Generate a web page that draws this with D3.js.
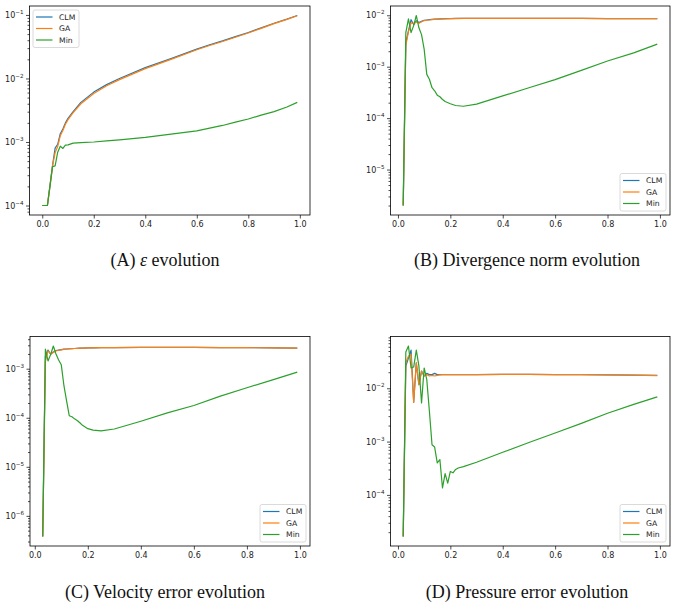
<!DOCTYPE html>
<html>
<head>
<meta charset="utf-8">
<script src="https://cdn.jsdelivr.net/npm/d3@7"></script>
<style>
body{margin:0;background:#fff;}
svg{display:block;}
</style>
</head>
<body>
<script>
// series names and colours
var seriesNames = ["CLM", "GA", "Min"];
var colors = ["#1f77b4", "#ff7f0e", "#2ca02c"];
var xTicks = [0.0, 0.2, 0.4, 0.6, 0.8, 1.0];

// (A) epsilon evolution
var xA = [0, 0.01, 0.02, 0.03, 0.04, 0.05, 0.06, 0.07, 0.08, 0.09, 0.10, 0.12, 0.15, 0.2, 0.25, 0.3, 0.4, 0.5, 0.6, 0.65, 0.7, 0.75, 0.8, 0.85, 0.9, 0.95, 0.99];
var clmA = [1e-4, 1e-4, 1e-4, 2.1e-4, 4.3e-4, 8.0e-4, 9.2e-4, 1.35e-3, 1.6e-3, 2.0e-3, 2.35e-3, 3.0e-3, 4.2e-3, 6.1e-3, 8.0e-3, 1.0e-2, 1.48e-2, 2.05e-2, 2.9e-2, 3.4e-2, 3.9e-2, 4.55e-2, 5.3e-2, 6.25e-2, 7.4e-2, 8.6e-2, 9.8e-2];
var gaA = [1e-4, 1e-4, 1e-4, 2.0e-4, 4.2e-4, 6.8e-4, 8.5e-4, 1.25e-3, 1.52e-3, 1.9e-3, 2.25e-3, 2.9e-3, 4.0e-3, 5.8e-3, 7.7e-3, 9.6e-3, 1.43e-2, 2.0e-2, 2.83e-2, 3.3e-2, 3.82e-2, 4.45e-2, 5.2e-2, 6.15e-2, 7.3e-2, 8.5e-2, 9.7e-2];
var minA = [1e-4, 1e-4, 1e-4, 2.0e-4, 4.1e-4, 4.2e-4, 6.9e-4, 8.6e-4, 7.9e-4, 8.9e-4, 9.0e-4, 9.6e-4, 9.8e-4, 1.0e-3, 1.04e-3, 1.08e-3, 1.18e-3, 1.33e-3, 1.5e-3, 1.65e-3, 1.82e-3, 2.05e-3, 2.3e-3, 2.65e-3, 3.0e-3, 3.55e-3, 4.2e-3];

// (B) divergence norm evolution
var xB = [0.02, 0.03, 0.04, 0.05, 0.06, 0.07, 0.08, 0.09, 0.10, 0.11, 0.12, 0.13, 0.14, 0.15, 0.16, 0.17, 0.18, 0.2, 0.22, 0.25, 0.3, 0.4, 0.5, 0.6, 0.7, 0.8, 0.9, 0.99];
var clmB = [2e-6, 2.9e-3, 5.0e-3, 8.2e-3, 6.6e-3, 7.8e-3, 7.2e-3, 7.6e-3, 8.0e-3, 8.1e-3, 8.2e-3, 8.3e-3, 8.4e-3, 8.4e-3, 8.5e-3, 8.5e-3, 8.6e-3, 8.6e-3, 8.7e-3, 8.7e-3, 8.7e-3, 8.7e-3, 8.7e-3, 8.7e-3, 8.7e-3, 8.6e-3, 8.6e-3, 8.6e-3];
var gaB = [2e-6, 2.6e-3, 4.8e-3, 7.1e-3, 6.9e-3, 7.4e-3, 7.0e-3, 7.5e-3, 7.9e-3, 8.0e-3, 8.1e-3, 8.2e-3, 8.3e-3, 8.4e-3, 8.4e-3, 8.5e-3, 8.5e-3, 8.6e-3, 8.6e-3, 8.7e-3, 8.7e-3, 8.7e-3, 8.7e-3, 8.7e-3, 8.7e-3, 8.6e-3, 8.6e-3, 8.6e-3];
var minB = [2e-6, 4.6e-3, 8.5e-3, 4.6e-3, 6.3e-3, 9.9e-3, 5.7e-3, 4.2e-3, 2.2e-3, 7.1e-4, 5.7e-4, 3.9e-4, 3.4e-4, 2.8e-4, 2.6e-4, 2.3e-4, 2.1e-4, 1.9e-4, 1.76e-4, 1.7e-4, 1.87e-4, 2.7e-4, 3.9e-4, 5.6e-4, 8.5e-4, 1.29e-3, 1.86e-3, 2.75e-3];

// (C) velocity error evolution
var xC = [0.03, 0.04, 0.05, 0.06, 0.07, 0.08, 0.09, 0.10, 0.11, 0.12, 0.13, 0.14, 0.15, 0.16, 0.17, 0.18, 0.2, 0.22, 0.25, 0.3, 0.4, 0.5, 0.6, 0.7, 0.8, 0.9, 0.99];
var clmC = [3.8e-7, 1.8e-3, 2.4e-3, 1.96e-3, 2.2e-3, 2.35e-3, 2.4e-3, 2.45e-3, 2.5e-3, 2.52e-3, 2.55e-3, 2.57e-3, 2.58e-3, 2.6e-3, 2.62e-3, 2.63e-3, 2.65e-3, 2.67e-3, 2.68e-3, 2.7e-3, 2.72e-3, 2.72e-3, 2.72e-3, 2.7e-3, 2.68e-3, 2.66e-3, 2.63e-3];
var gaC = [3.8e-7, 1.4e-3, 2.3e-3, 2.0e-3, 2.15e-3, 2.3e-3, 2.38e-3, 2.43e-3, 2.48e-3, 2.5e-3, 2.53e-3, 2.56e-3, 2.58e-3, 2.6e-3, 2.62e-3, 2.63e-3, 2.65e-3, 2.67e-3, 2.68e-3, 2.7e-3, 2.72e-3, 2.72e-3, 2.72e-3, 2.7e-3, 2.68e-3, 2.66e-3, 2.63e-3];
var minC = [3.8e-7, 2.5e-3, 1.44e-3, 1.96e-3, 2.9e-3, 2.0e-3, 1.5e-3, 1.2e-3, 4.5e-4, 2.2e-4, 1.1e-4, 1.05e-4, 9.5e-5, 8.8e-5, 7.9e-5, 7.0e-5, 6.0e-5, 5.6e-5, 5.4e-5, 5.9e-5, 8.5e-5, 1.26e-4, 1.78e-4, 2.76e-4, 4.1e-4, 6.0e-4, 8.5e-4];

// (D) pressure error evolution
var xD = [0.02, 0.03, 0.04, 0.05, 0.06, 0.07, 0.08, 0.09, 0.10, 0.11, 0.12, 0.13, 0.14, 0.15, 0.16, 0.17, 0.18, 0.19, 0.20, 0.21, 0.22, 0.23, 0.25, 0.3, 0.4, 0.5, 0.6, 0.7, 0.8, 0.9, 0.99];
var clmD = [1.66e-5, 0.026, 0.037, 0.052, 5.5e-3, 0.030, 0.0117, 0.021, 0.017, 0.019, 0.018, 0.018, 0.019, 0.018, 0.018, 0.018, 0.018, 0.018, 0.018, 0.018, 0.018, 0.018, 0.018, 0.018, 0.0182, 0.0182, 0.0181, 0.018, 0.0178, 0.0176, 0.0174];
var gaD = [1.66e-5, 0.030, 0.040, 0.043, 5.5e-3, 0.030, 0.0117, 0.021, 0.017, 0.018, 0.017, 0.0175, 0.017, 0.0175, 0.0178, 0.018, 0.018, 0.018, 0.018, 0.018, 0.018, 0.018, 0.018, 0.018, 0.0182, 0.0182, 0.0181, 0.018, 0.0178, 0.0176, 0.0173];
var minD = [1.66e-5, 0.048, 0.062, 0.024, 0.025, 0.052, 0.026, 5.3e-3, 0.024, 0.0145, 3.7e-3, 8.7e-4, 7.9e-4, 4.0e-4, 4.6e-4, 1.35e-4, 2.5e-4, 1.66e-4, 2.75e-4, 2.6e-4, 3.0e-4, 3.2e-4, 3.4e-4, 4.1e-4, 6.3e-4, 9.6e-4, 1.45e-3, 2.2e-3, 3.4e-3, 5.0e-3, 6.9e-3];

var W = 678, H = 607;
var svg = d3.select("body").append("svg")
  .attr("width", W)
  .attr("height", H);

// frame boxes [left, top, right, bottom], caption centre
var panels = [
  {x: xA, ys: [clmA, gaA, minA], box: [29.5, 6, 310, 215], legend: "ul", cap: [165, 266], label: "(A) ", eps: true, rest: " evolution"},
  {x: xB, ys: [clmB, gaB, minB], box: [390.5, 6, 670, 215], legend: "lr", cap: [527, 266], label: "(B) Divergence norm evolution"},
  {x: xC, ys: [clmC, gaC, minC], box: [30, 336.5, 310, 546], legend: "lr", cap: [165, 598], label: "(C) Velocity error evolution"},
  {x: xD, ys: [clmD, gaD, minD], box: [390.5, 336.5, 670, 546], legend: "lr", cap: [527, 598], label: "(D) Pressure error evolution"}
];

panels.forEach(function(p) {
  var b = p.box;
  var g = svg.append("g");

  // matplotlib style 5% margins
  var xe = d3.extent(p.x);
  var xm = (xe[1] - xe[0]) * 0.05;
  var x = d3.scaleLinear().domain([xe[0] - xm, xe[1] + xm]).range([b[0], b[2]]);

  var all = d3.merge(p.ys);
  var ly = d3.extent(all).map(Math.log10);
  var ym = (ly[1] - ly[0]) * 0.05;
  var y = d3.scaleLog().domain([Math.pow(10, ly[0] - ym), Math.pow(10, ly[1] + ym)]).range([b[3], b[1]]);

  // y major / minor ticks
  var majors = [], minors = [];
  for (var e = Math.ceil(ly[0] - ym - 1); e <= Math.floor(ly[1] + ym); e++) {
    var v = Math.pow(10, e);
    if (v >= y.domain()[0] && v <= y.domain()[1]) majors.push(v);
    for (var k = 2; k < 10; k++) {
      var m = k * v;
      if (m >= y.domain()[0] && m <= y.domain()[1]) minors.push(m);
    }
  }

  var yMinor = g.append("g")
    .attr("transform", "translate(" + b[0] + ",0)")
    .call(d3.axisLeft(y).tickValues(minors).tickSize(2).tickSizeOuter(0).tickFormat(""));
  var yMajor = g.append("g")
    .attr("transform", "translate(" + b[0] + ",0)")
    .call(d3.axisLeft(y).tickValues(majors).tickSize(3.5).tickSizeOuter(0).tickFormat(""));
  [yMinor, yMajor].forEach(function(a) {
    a.select(".domain").remove();
    a.selectAll("line").attr("stroke", "#000").attr("stroke-width", 0.7);
  });

  yMajor.selectAll(".tick").each(function(d) {
    var t = d3.select(this).append("text")
      .attr("x", -6)
      .attr("dy", "0.32em")
      .attr("text-anchor", "end")
      .attr("fill", "#222")
      .attr("font-family", "DejaVu Sans")
      .attr("font-size", 8);
    t.append("tspan").text("10");
    t.append("tspan")
      .attr("dy", -4)
      .attr("font-size", 5.6)
      .text(String(Math.round(Math.log10(d))).replace("-", "\u2212"));
  });

  var xAxis = g.append("g")
    .attr("transform", "translate(0," + b[3] + ")")
    .call(d3.axisBottom(x).tickValues(xTicks).tickSize(3.5).tickSizeOuter(0).tickPadding(2.5).tickFormat(d3.format(".1f")));
  xAxis.select(".domain").remove();
  xAxis.selectAll("line").attr("stroke", "#000").attr("stroke-width", 0.7);
  xAxis.selectAll("text")
    .attr("fill", "#222")
    .attr("font-family", "DejaVu Sans")
    .attr("font-size", 8);

  // lines
  p.ys.forEach(function(vals, i) {
    var line = d3.line()
      .x(function(d, j) { return x(p.x[j]); })
      .y(function(d) { return y(d); });
    g.append("path")
      .datum(vals)
      .attr("d", line)
      .attr("fill", "none")
      .attr("stroke", colors[i])
      .attr("stroke-width", 1.2)
      .attr("stroke-linejoin", "round");
  });

  // frame
  g.append("rect")
    .attr("x", b[0])
    .attr("y", b[1])
    .attr("width", b[2] - b[0])
    .attr("height", b[3] - b[1])
    .attr("fill", "none")
    .attr("stroke", "#000")
    .attr("stroke-width", 0.8);

  // legend
  var lw = 46, lh = 37.5;
  var lx = p.legend == "ul" ? b[0] + 3.5 : b[2] - 4 - lw;
  var ly0 = p.legend == "ul" ? b[1] + 4 : b[3] - 4 - lh;
  var leg = g.append("g").attr("transform", "translate(" + lx + "," + ly0 + ")");
  leg.append("rect")
    .attr("width", lw)
    .attr("height", lh)
    .attr("rx", 2)
    .attr("fill", "#fff")
    .attr("fill-opacity", 0.8)
    .attr("stroke", "#d0d0d0")
    .attr("stroke-width", 0.8);
  seriesNames.forEach(function(n, i) {
    var ry = 7 + i * 11.5;
    leg.append("line")
      .attr("x1", 3).attr("x2", 19.5)
      .attr("y1", ry).attr("y2", ry)
      .attr("stroke", colors[i])
      .attr("stroke-width", 1.2);
    leg.append("text")
      .attr("x", 26)
      .attr("y", ry)
      .attr("dy", "0.35em")
      .attr("font-family", "DejaVu Sans")
      .attr("font-size", 7.7)
      .attr("fill", "#222")
      .text(n);
  });

  // caption
  var cap = svg.append("text")
    .attr("x", p.cap[0])
    .attr("y", p.cap[1])
    .attr("text-anchor", "middle")
    .attr("font-family", "Liberation Serif")
    .attr("font-size", 18)
    .attr("fill", "#111");
  cap.append("tspan").text(p.label);
  if (p.eps) {
    cap.append("tspan").attr("font-style", "italic").text("\u03B5");
    cap.append("tspan").text(p.rest);
  }
});
</script>
</body>
</html>
